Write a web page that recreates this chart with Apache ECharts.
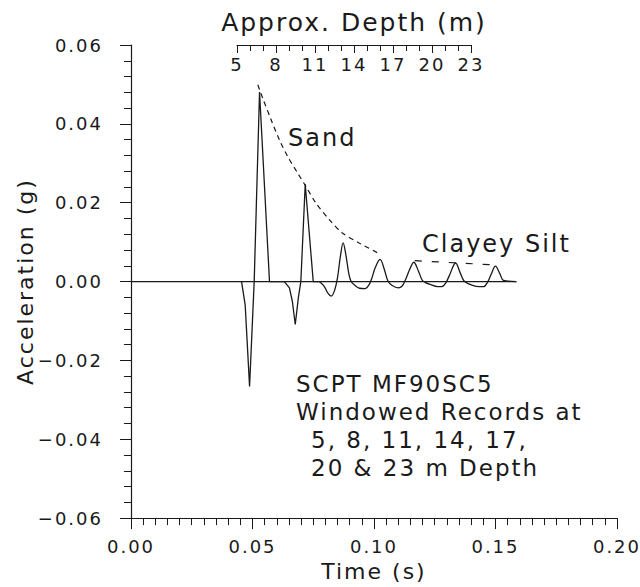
<!DOCTYPE html>
<html>
<head>
<meta charset="utf-8">
<script src="https://cdn.jsdelivr.net/npm/echarts@6/dist/echarts.min.js"></script>
<style>
  html, body { margin: 0; padding: 0; background: #fff; }
  #main { width: 640px; height: 587px; }
  #main text { letter-spacing: 2px; }
</style>
</head>
<body>
<div id="main"></div>
<script>
// ---- data (time in s, acceleration in g) ----
const baseline = [[0, 0], [0.1586, 0]];
const rec5m = [[0.0451, 0], [0.0455, 0], [0.0470, -0.006], [0.0488, -0.0266], [0.0507, 0], [0.0529, 0.0481], [0.0570, 0], [0.0631, 0]];
const rec8m = [[0.0631, 0], [0.0652, -0.0016], [0.0664, -0.005], [0.0676, -0.0109], [0.0689, -0.004], [0.0699, 0], [0.0717, 0.0247], [0.0750, 0], [0.0775, 0]];
const rec11m = [[0.0775, 0], [0.0795, -0.0012], [0.0811, -0.0030], [0.0824, -0.0037], [0.0838, -0.0022], [0.0850, 0.0010], [0.0862, 0.0065], [0.0873, 0.0098], [0.0885, 0.0065], [0.0897, 0.0018], [0.0906, 0.0]];
const rec14m = [[0.0922, -0.0010], [0.0940, -0.0017], [0.0963, -0.0018], [0.0980, -0.0008], [0.0992, 0.0010], [0.1005, 0.0035], [0.1025, 0.0056], [0.1043, 0.0030], [0.1057, 0.0002]];
const rec17m = [[0.1075, -0.0010], [0.1100, -0.0016], [0.1115, -0.0012], [0.1130, 0.0005], [0.1145, 0.0028], [0.1164, 0.0049], [0.1182, 0.0028], [0.1198, 0.0004], [0.1210, -0.0002]];
const rec20m = [[0.1230, -0.0007], [0.1262, -0.0013], [0.1279, -0.0013], [0.1295, -0.0004], [0.1310, 0.0015], [0.1336, 0.0047], [0.1355, 0.0022], [0.1370, 0.0002]];
const rec23m = [[0.1390, -0.0006], [0.1420, -0.0012], [0.1451, -0.0013], [0.1467, -0.0002], [0.1482, 0.0018], [0.1500, 0.0039], [0.1518, 0.0020], [0.1533, 0.0003], [0.1586, 0]];
const sandEnvelope = [[0.0522, 0.0499], [0.0542, 0.0465], [0.0577, 0.0410], [0.0611, 0.0359], [0.0645, 0.0317], [0.0686, 0.0275], [0.0720, 0.0241], [0.0761, 0.0199], [0.0816, 0.0157], [0.0870, 0.0123], [0.0939, 0.0098], [0.1014, 0.0073]];
const siltEnvelope = [[0.1168, 0.0053], [0.1500, 0.0042]];
const depthTicks = [5, 8, 11, 14, 17, 20, 23];
const timeTicks = [0, 0.05, 0.10, 0.15, 0.20];
const accTicks = [-0.06, -0.04, -0.02, 0, 0.02, 0.04, 0.06];
const noteLines = ['SCPT MF90SC5', 'Windowed Records at', '5, 8, 11, 14, 17,', '20 & 23 m Depth'];

const FONT = 'DejaVu Sans';
const INK = '#1a1a1a';
const earlyTrace = rec5m.concat(rec8m);
const lateTrace = rec11m.concat(rec14m, rec17m, rec20m, rec23m);

const chart = echarts.init(document.getElementById('main'), null, { renderer: 'svg' });
const lineBase = { type: 'line', showSymbol: false, symbol: 'none', animation: false, silent: true };
const fmt = v => v.toFixed(2).replace('-', '\u2212');

chart.setOption({
  backgroundColor: '#fff',
  animation: false,
  grid: [
    { left: 131, top: 45, width: 488, height: 474 },
    { left: 237, top: 45, width: 234, height: 10 }
  ],
  xAxis: [
    {
      gridIndex: 0, type: 'value',
      min: timeTicks[0], max: timeTicks[timeTicks.length - 1], interval: 0.05,
      name: 'Time (s)', nameLocation: 'middle', nameGap: 40,
      nameTextStyle: { fontFamily: FONT, fontSize: 22, color: INK },
      axisLine: { show: true, onZero: false, lineStyle: { color: INK, width: 1.2 } },
      axisTick: { show: true, inside: false, length: 11, lineStyle: { color: INK, width: 1 } },
      minorTick: { show: true, splitNumber: 10, length: 7, lineStyle: { color: INK, width: 1 } },
      axisLabel: { formatter: fmt, fontFamily: FONT, fontSize: 18, color: INK, margin: 19 },
      splitLine: { show: false }
    },
    {
      gridIndex: 1, type: 'value', position: 'top',
      min: depthTicks[0], max: depthTicks[depthTicks.length - 1], interval: 3,
      name: 'Approx. Depth (m)', nameLocation: 'middle', nameGap: 10,
      nameTextStyle: { fontFamily: FONT, fontSize: 25, color: INK },
      axisLine: { show: true, onZero: false, lineStyle: { color: INK, width: 1.2 } },
      axisTick: { show: true, inside: true, length: 8, lineStyle: { color: INK, width: 1 } },
      minorTick: { show: true, splitNumber: 3, length: 6, lineStyle: { color: INK, width: 1 } },
      axisLabel: { inside: true, margin: 10, fontFamily: FONT, fontSize: 18, color: INK },
      splitLine: { show: false }
    }
  ],
  yAxis: [
    {
      gridIndex: 0, type: 'value',
      min: accTicks[0], max: accTicks[accTicks.length - 1], interval: 0.02,
      name: 'Acceleration (g)', nameLocation: 'middle', nameGap: 90,
      nameTextStyle: { fontFamily: FONT, fontSize: 22, color: INK },
      axisLine: { show: true, onZero: false, lineStyle: { color: INK, width: 1.2 } },
      axisTick: { show: true, inside: false, length: 11, lineStyle: { color: INK, width: 1 } },
      minorTick: { show: true, splitNumber: 5, length: 7, lineStyle: { color: INK, width: 1 } },
      axisLabel: { formatter: fmt, fontFamily: FONT, fontSize: 18, color: INK, margin: 28 },
      splitLine: { show: false }
    },
    { gridIndex: 1, type: 'value', min: 0, max: 1, show: false }
  ],
  series: [
    Object.assign({}, lineBase, { data: baseline, lineStyle: { color: INK, width: 1.2 } }),
    Object.assign({}, lineBase, { data: earlyTrace, lineStyle: { color: INK, width: 1.3 } }),
    Object.assign({}, lineBase, { data: lateTrace, smooth: 0.35, lineStyle: { color: INK, width: 1.3 } }),
    Object.assign({}, lineBase, { data: sandEnvelope, smooth: 0.3, lineStyle: { color: INK, width: 1.2, type: [5, 4] } }),
    Object.assign({}, lineBase, { data: siltEnvelope, lineStyle: { color: INK, width: 1.2, type: [7, 10] } })
  ],
  graphic: [
    { type: 'text', x: 288, y: 138, style: { text: 'Sand', fontFamily: FONT, fontSize: 24, fill: INK, verticalAlign: 'middle' } },
    { type: 'text', x: 422, y: 244, style: { text: 'Clayey Silt', fontFamily: FONT, fontSize: 24, fill: INK, verticalAlign: 'middle' } },
    { type: 'text', x: 296, y: 384, style: { text: noteLines[0], fontFamily: FONT, fontSize: 23, fill: INK, verticalAlign: 'middle' } },
    { type: 'text', x: 296, y: 412, style: { text: noteLines[1], fontFamily: FONT, fontSize: 23, fill: INK, verticalAlign: 'middle' } },
    { type: 'text', x: 311, y: 440, style: { text: noteLines[2], fontFamily: FONT, fontSize: 23, fill: INK, verticalAlign: 'middle' } },
    { type: 'text', x: 311, y: 468, style: { text: noteLines[3], fontFamily: FONT, fontSize: 23, fill: INK, verticalAlign: 'middle' } }
  ]
});
</script>
</body>
</html>
